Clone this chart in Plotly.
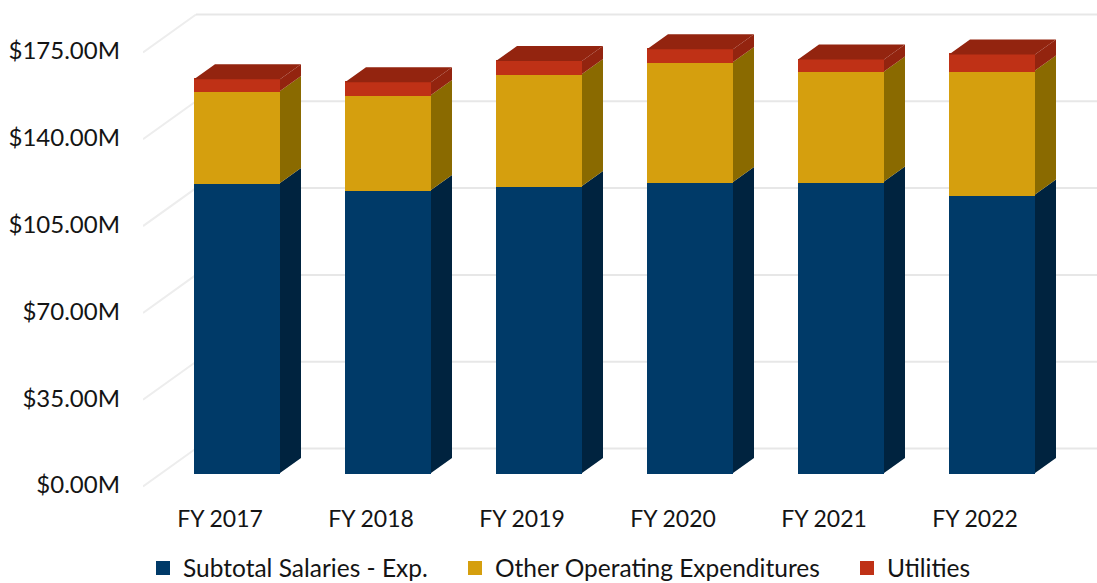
import plotly.graph_objects as go

categories = ["FY 2017", "FY 2018", "FY 2019", "FY 2020", "FY 2021", "FY 2022"]
salaries = [116.9, 114.1, 115.7, 117.3, 117.5, 112.3]
other_opex = [37.1, 38.3, 45.2, 48.4, 44.4, 50.0]
utilities = [4.8, 5.2, 5.2, 5.2, 4.8, 6.5]
axis_values = [0, 35, 70, 105, 140, 175]
axis_labels = [f"${v:.2f}M" for v in axis_values]

FONT = "Lato, Carlito, Calibri, sans-serif"
TEXT = "#141414"
GRID = "#E7E7E7"
W, H = 1097, 583
L, B_PX = 143, 490            # plot area left edge / bottom edge in px
PX_PER_CAT = 151.0
PX_PER_M = 2.48
BAR_CENTER_0 = 237.0
Y0_PX = 485.0

x_min = (L - BAR_CENTER_0) / PX_PER_CAT
x_max = (W - BAR_CENTER_0) / PX_PER_CAT
y_max = Y0_PX / PX_PER_M
y_min = (Y0_PX - B_PX) / PX_PER_M

bar_w = 84 / PX_PER_CAT
half = 86 / PX_PER_CAT / 2
floor = (Y0_PX - 473) / PX_PER_M
dx_bar, dy_bar = 21 / PX_PER_CAT, 15 / PX_PER_M
dx_wall, dy_wall = 53 / PX_PER_CAT, 36.5 / PX_PER_M
label_shift = 17 / PX_PER_CAT

xs = list(range(len(categories)))
series = [
    ("Subtotal Salaries - Exp.", salaries, "#003A68", "#00233F", "legend"),
    ("Other Operating Expenditures", other_opex, "#D59F0E", "#8A6A00", "legend2"),
    ("Utilities", utilities, "#BF3116", "#93240F", "legend3"),
]

fig = go.Figure()
bottoms = [floor] * len(xs)
for name, vals, front, dark, legend in series:
    fig.add_trace(go.Bar(
        x=xs, y=vals, base=bottoms, width=bar_w, name=name, legend=legend,
        marker=dict(color=front, line=dict(color=front, width=2)),
        hoverinfo="skip",
    ))
    tops = [b + v for b, v in zip(bottoms, vals)]
    px, py = [], []
    for x, b, t in zip(xs, bottoms, tops):
        r = x + half
        px += [r, r + dx_bar, r + dx_bar, r, r, None]
        py += [b, b + dy_bar, t + dy_bar, t, b, None]
    fig.add_trace(go.Scatter(
        x=px, y=py, mode="lines", fill="toself", fillcolor=dark,
        line=dict(width=0, color=dark), showlegend=False, hoverinfo="skip",
    ))
    bottoms = tops

# top faces of the stacks
tx, ty = [], []
for x, t in zip(xs, bottoms):
    lft, r = x - half, x + half
    tx += [lft, lft + dx_bar, r + dx_bar, r, lft, None]
    ty += [t, t + dy_bar, t + dy_bar, t, t, None]
fig.add_trace(go.Scatter(
    x=tx, y=ty, mode="lines", fill="toself", fillcolor=series[2][3],
    line=dict(width=0, color=series[2][3]), showlegend=False, hoverinfo="skip",
))

# perspective gridlines behind the bars
shapes = []
for v in axis_values:
    corner_x = x_min + dx_wall
    shapes.append(dict(type="line", layer="below", xref="x", yref="y",
                       x0=x_min, y0=v - 0.6, x1=corner_x, y1=v + dy_wall,
                       line=dict(color="#EDEDED", width=2)))
    shapes.append(dict(type="line", layer="below", xref="x", yref="y",
                       x0=corner_x, y0=v + dy_wall, x1=x_max, y1=v + dy_wall,
                       line=dict(color=GRID, width=2)))

leg = dict(orientation="h", yanchor="middle", y=(B_PX - 568) / B_PX,
           xanchor="left", bgcolor="rgba(0,0,0,0)", itemclick=False,
           font=dict(family=FONT, size=24.5, color=TEXT))
plot_w = W - L

fig.update_layout(
    width=W, height=H, barmode="overlay", bargap=0,
    margin=dict(l=L, r=0, t=0, b=H - B_PX, pad=0, autoexpand=False),
    paper_bgcolor="white", plot_bgcolor="white",
    font=dict(family=FONT, size=23, color=TEXT),
    hovermode=False, shapes=shapes,
    xaxis=dict(range=[x_min, x_max], tickmode="array",
               tickvals=[x - label_shift for x in xs], ticktext=categories,
               showgrid=False, zeroline=False, showline=False, ticks="",
               ticklabelstandoff=13, tickfont=dict(family=FONT, size=23, color=TEXT)),
    yaxis=dict(range=[y_min, y_max], tickmode="array",
               tickvals=axis_values, ticktext=axis_labels,
               showgrid=False, zeroline=False, showline=False, ticks="",
               ticklabelstandoff=22, tickfont=dict(family=FONT, size=24, color=TEXT)),
    legend=dict(leg, x=(143 - L) / plot_w),
    legend2=dict(leg, x=(455 - L) / plot_w),
    legend3=dict(leg, x=(847 - L) / plot_w),
)

fig.write_html("out.html", config={"displayModeBar": False},
               post_script="document.body.style.margin='0';document.documentElement.style.overflow='hidden';")
